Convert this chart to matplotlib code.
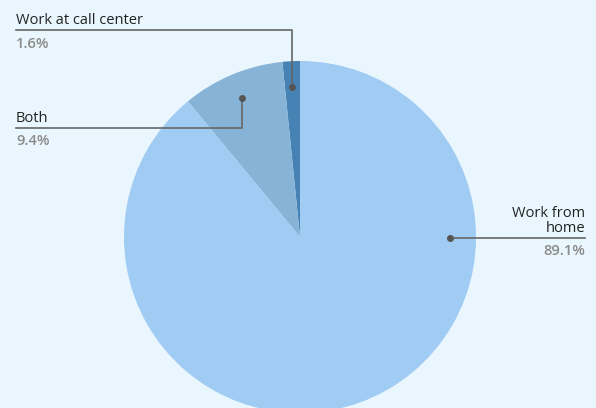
import numpy as np
import matplotlib.pyplot as plt

plt.rcParams['font.family'] = ['Open Sans', 'DejaVu Sans']

labels = ['Work at call center', 'Both', 'Work from\nhome']
values = [1.6, 9.4, 89.1]
colors = ['#4682b4', '#87b3d6', '#a0cbf2']

W, H = 596, 408
fig = plt.figure(figsize=(W / 100, H / 100), dpi=100, facecolor='#e9f6fe')
ax = fig.add_axes([0, 0, 1, 1])
ax.set_xlim(0, W)
ax.set_ylim(0, H)
ax.set_aspect('equal')
ax.axis('off')

cx, cy, R = 300, H - 237, 176
ax.pie(values, colors=colors, startangle=90, counterclock=True,
       center=(cx, cy), radius=R, wedgeprops=dict(linewidth=0))
ax.set_xlim(0, W)
ax.set_ylim(0, H)

# dot positions on the slices
total = sum(values)
cum = np.cumsum([0] + values[:-1])
mids = 90 + (cum + np.array(values) / 2) / total * 360
mids[2] = -0.5
dots = [(cx + 0.855 * R * np.cos(np.radians(a)), cy + 0.855 * R * np.sin(np.radians(a)))
        for a in mids]

line_c = '#666666'
txt_c = '#222222'
pct_c = '#8a8a8a'
fs = 10.5

# work at call center: line across the top, then down
y0 = H - 30
x, y = dots[0]
ax.plot([16, x, x], [y0, y0, y], color=line_c, lw=1.2)
ax.plot(x, y, 'o', color='#555555', ms=4)
ax.text(16, y0 + 2, labels[0], color=txt_c, fontsize=fs, va='bottom')
ax.text(16, y0 - 7, f'{values[0]}%', color=pct_c, fontsize=fs, fontweight='semibold', va='top')

# both
y1 = H - 128
x, y = dots[1]
ax.plot([16, x, x], [y1, y1, y], color=line_c, lw=1.2)
ax.plot(x, y, 'o', color='#555555', ms=4)
ax.text(16, y1 + 2, labels[1], color=txt_c, fontsize=fs, va='bottom')
ax.text(16, y1 - 6, f'{values[1]}%', color=pct_c, fontsize=fs, fontweight='semibold', va='top')

# work from home, right side
x, y = dots[2]
ax.plot([x, 585], [y, y], color=line_c, lw=1.2)
ax.plot(x, y, 'o', color='#555555', ms=4)
ax.text(585, y + 2, labels[2], color=txt_c, fontsize=fs, va='bottom', ha='right',
        linespacing=1.0)
ax.text(585, y - 6, f'{values[2]}%', color=pct_c, fontsize=fs, fontweight='semibold',
        va='top', ha='right')

fig.savefig('out.png', dpi=100, facecolor=fig.get_facecolor())
